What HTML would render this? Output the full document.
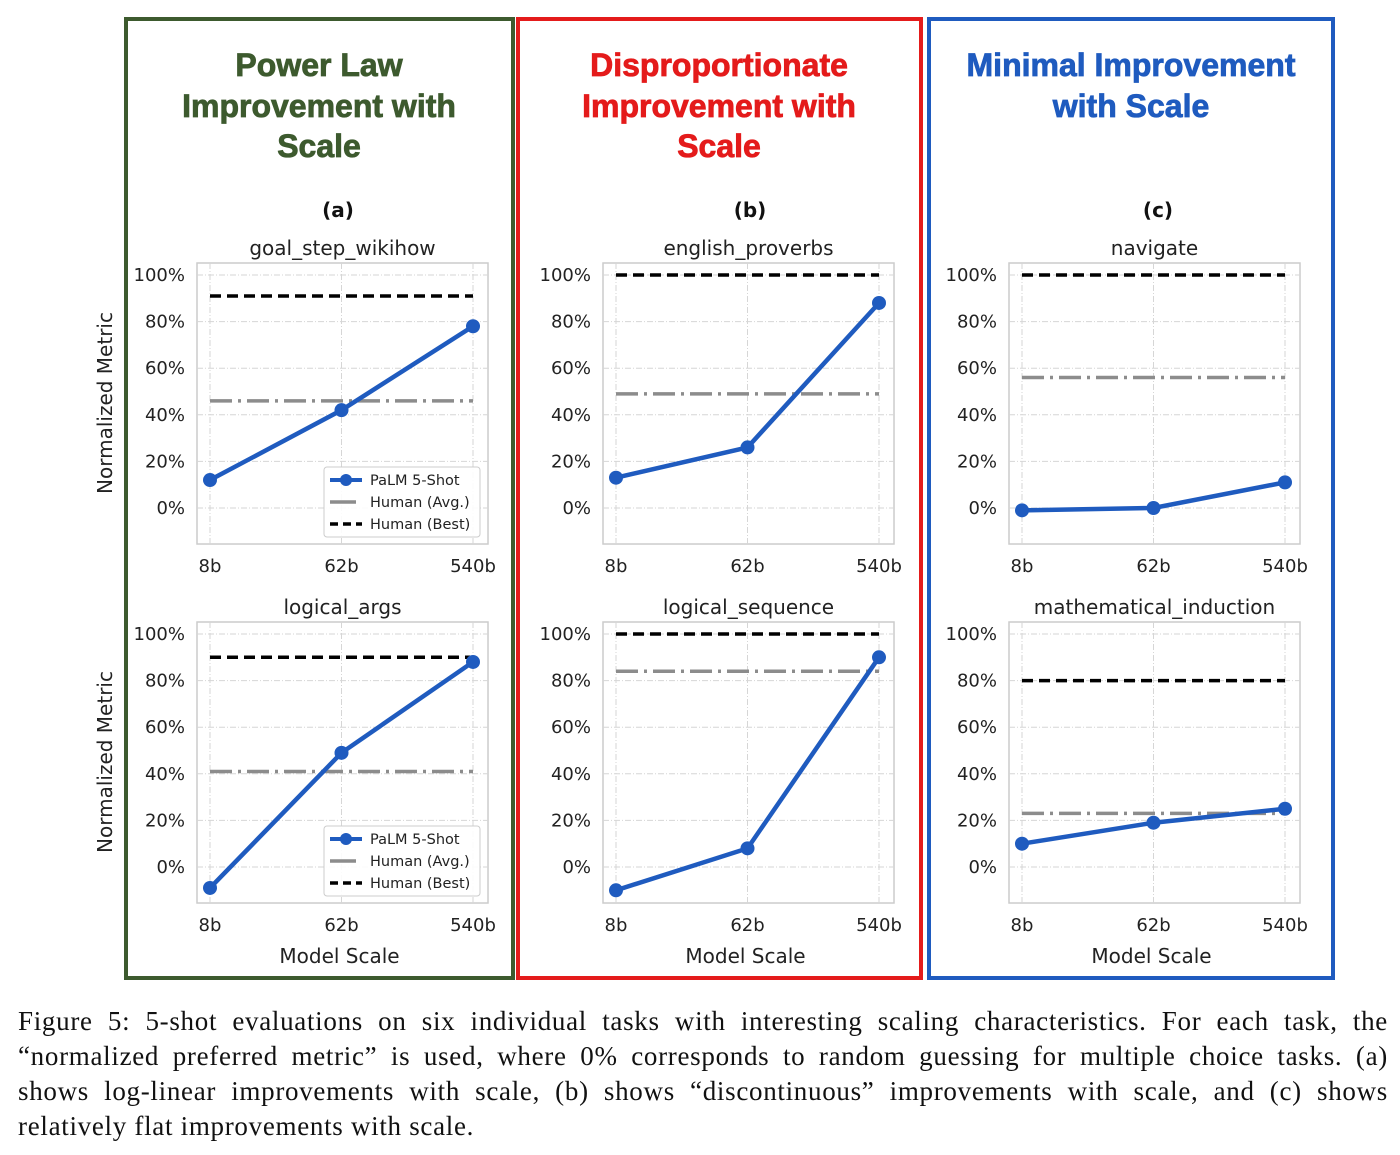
<!DOCTYPE html>
<html><head><meta charset="utf-8"><style>
body{margin:0;background:#fff;width:1400px;height:1155px;overflow:hidden}
svg{display:block}
.cap{position:absolute;left:18px;top:1004px;width:1370px;font-family:"Liberation Serif",serif;font-size:27px;letter-spacing:0.7px;line-height:35px;color:#111}
.cap span{display:block;text-align:justify;text-align-last:justify;white-space:nowrap}
.cap span.last{text-align-last:left}
</style></head><body>
<svg id="fig" width="1400" height="1155" xmlns="http://www.w3.org/2000/svg" font-family="DejaVu Sans, Liberation Sans, sans-serif">
<rect x="126" y="19" width="387" height="959" fill="none" stroke="#3d5a2e" stroke-width="4"/>
<rect x="518" y="19" width="403" height="959" fill="none" stroke="#e41b1b" stroke-width="4"/>
<rect x="929" y="19" width="404" height="959" fill="none" stroke="#1f5bbf" stroke-width="4"/>
<g font-family="Liberation Sans, sans-serif" font-weight="bold" font-size="32" text-anchor="middle" stroke-width="0.8">
<text fill="#3d5a2e" stroke="#3d5a2e" x="319" y="76">Power Law<tspan x="319" y="117">Improvement with</tspan><tspan x="319" y="157">Scale</tspan></text>
<text fill="#e41b1b" stroke="#e41b1b" x="719" y="76">Disproportionate<tspan x="719" y="117">Improvement with</tspan><tspan x="719" y="157">Scale</tspan></text>
<text fill="#1f5bbf" stroke="#1f5bbf" x="1131" y="76">Minimal Improvement<tspan x="1131" y="117">with Scale</tspan></text>
</g>
<g font-weight="bold" font-size="20" text-anchor="middle" fill="#111">
<text x="338" y="217">(a)</text>
<text x="750" y="217">(b)</text>
<text x="1158" y="217">(c)</text>
</g>
<g id="charts"></g>
</svg>
<div class="cap"><span>Figure 5: 5-shot evaluations on six individual tasks with interesting scaling characteristics. For each task, the</span><span>“normalized preferred metric” is used, where 0% corresponds to random guessing for multiple choice tasks. (a)</span><span>shows log-linear improvements with scale, (b) shows “discontinuous” improvements with scale, and (c) shows</span><span class="last">relatively flat improvements with scale.</span></div>
<script>
const categories = ["8b","62b","540b"];
const yTicks = [0,20,40,60,80,100];
const taskNames = ["goal_step_wikihow","english_proverbs","navigate","logical_args","logical_sequence","mathematical_induction"];
const palmValues = [[12,42,78],[13,26,88],[-1,0,11],[-9,49,88],[-10,8,90],[10,19,25]];
const humanAvg = [46,49,56,41,84,23];
const humanBest = [91,100,100,90,100,80];
const colLeft = [197,603,1009];
const rowTop = [263,622];
const NS="http://www.w3.org/2000/svg";
const root=document.getElementById('charts');
function mk(tag,attrs,parent){const e=document.createElementNS(NS,tag);for(const k in attrs)e.setAttribute(k,attrs[k]);(parent||root).appendChild(e);return e;}
for(let i=0;i<6;i++){
  const c=i%3,r=Math.floor(i/3);
  const L=colLeft[c],T=rowTop[r],W=291,H=281;
  const y0=T+245, pxPer=233/100;
  const ys=v=>y0-v*pxPer;
  const xs=j=>L+13+j*(263/(categories.length-1));
  const g=mk('g',{});
  
  
  const fr=mk('rect',{x:L,y:T,width:W,height:H,fill:'#fff',stroke:'#ccc','stroke-width':1.5},g);
  
  
  yTicks.forEach(t=>{
    const gl=mk('line',{x1:L,x2:L+W,y1:ys(t),y2:ys(t),stroke:'#d6d6d6','stroke-dasharray':'6 2 1 2','stroke-width':1},g);
    
    
    const tl=mk('text',{x:L-12,y:ys(t)+6,'text-anchor':'end','font-size':18,fill:'#222'},g);
    tl.textContent=t+'%';
    
    
  });
  categories.forEach((cat,j)=>{
    const gl=mk('line',{x1:xs(j),x2:xs(j),y1:T,y2:T+H,stroke:'#d6d6d6','stroke-dasharray':'6 2 1 2','stroke-width':1},g);
    
    
    const tl=mk('text',{x:xs(j),y:T+309,'text-anchor':'middle','font-size':18,fill:'#222'},g);
    tl.textContent=cat;
    
    
  });
  const best=mk('line',{x1:xs(0),x2:xs(2),y1:ys(humanBest[i]),y2:ys(humanBest[i]),stroke:'#000','stroke-width':3.5,'stroke-dasharray':'11 6'},g);
  
  
  const avg=mk('line',{x1:xs(0),x2:xs(2),y1:ys(humanAvg[i]),y2:ys(humanAvg[i]),stroke:'#8c8c8c','stroke-width':3.5,'stroke-dasharray':'22 6 3 6'},g);
  
  
  const pts=palmValues[i].map((v,j)=>xs(j)+','+ys(v)).join(' ');
  const pl=mk('polyline',{points:pts,fill:'none',stroke:'#1f5bbf','stroke-width':4.5},g);
  
  
  palmValues[i].forEach((v,j)=>{
    const p=mk('circle',{cx:xs(j),cy:ys(v),r:7,fill:'#1f5bbf'},g);
    
    
  });
  const st=mk('text',{x:L+W/2,y:T-8,'text-anchor':'middle','font-size':20,fill:'#222'},g);
  st.textContent=taskNames[i];
  
  
  if(c===0){
    const yl=mk('text',{x:0,y:0,transform:`translate(112,${T+140}) rotate(-90)`,'text-anchor':'middle','font-size':20,fill:'#222'},g);
    yl.textContent='Normalized Metric';
    
    
    const lg=mk('g',{},g);
    
    
    const lx=L+127,ly=T+204;
    mk('rect',{x:lx,y:ly,width:156,height:70,fill:'#fff','fill-opacity':0.9,stroke:'#ccc',rx:3},lg);
    mk('line',{x1:lx+6,x2:lx+38,y1:ly+13,y2:ly+13,stroke:'#1f5bbf','stroke-width':4},lg);
    mk('circle',{cx:lx+22,cy:ly+13,r:6,fill:'#1f5bbf'},lg);
    mk('line',{x1:lx+6,x2:lx+32,y1:ly+35,y2:ly+35,stroke:'#8c8c8c','stroke-width':3.5},lg);
    mk('line',{x1:lx+6,x2:lx+38,y1:ly+57,y2:ly+57,stroke:'#000','stroke-width':3.5,'stroke-dasharray':'8 5'},lg);
    ['PaLM 5-Shot','Human (Avg.)','Human (Best)'].forEach((s,k)=>{
      const t=mk('text',{x:lx+46,y:ly+18+k*22,'font-size':14.5,fill:'#222'},lg);
      t.textContent=s;
      
      
    });
  }
  if(r===1){
    const xl=mk('text',{x:L+W/2-3,y:963,'text-anchor':'middle','font-size':20,fill:'#222'},g);
    xl.textContent='Model Scale';
    
    
  }
}
</script>
</body></html>
